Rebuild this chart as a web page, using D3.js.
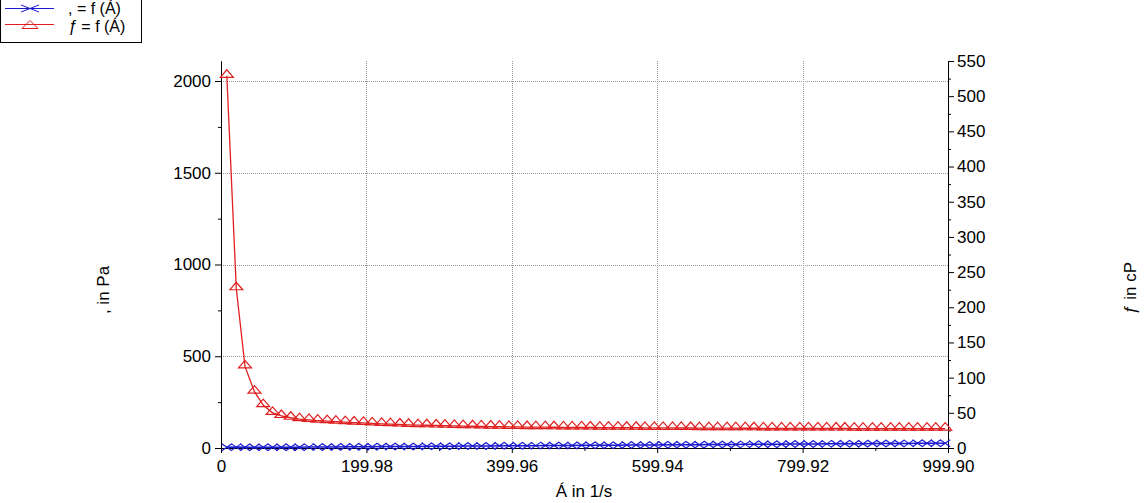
<!DOCTYPE html>
<html>
<head>
<meta charset="utf-8">
<script src="https://cdn.jsdelivr.net/npm/d3@7"></script>
<style>
body { margin: 0; background: #fff; }
svg { font-family: "Liberation Sans", Arial, sans-serif; }
</style>
</head>
<body>
<div id="graph"></div>
<script>
// shear rate (1/s)
var shearRate = [8,21,33,46,58,71,83,96,108,121,133,146,158,171,183,196,208,221,233,246,
	258,271,283,296,308,321,333,346,358,371,383,396,408,421,433,446,458,471,483,496,
	508,521,533,546,558,571,583,596,608,621,633,646,658,671,683,696,708,721,733,746,
	758,771,783,796,808,821,833,846,858,871,883,896,908,921,933,946,958,971,983,996];
// viscosity (cP), right axis
var viscosity = [529,227,116,80,61,50,45.5,43,41,40,39,38.2,37.5,36.8,36.2,35.6,35,34.4,33.9,33.4,
	33,32.6,32.3,32,31.7,31.4,31.1,30.9,30.7,30.5,30.3,30.1,29.95,29.8,29.7,29.6,29.5,29.4,29.3,29.2,
	29.1,29.0,28.95,28.9,28.8,28.75,28.7,28.6,28.55,28.5,28.45,28.4,28.35,28.3,28.25,28.2,28.15,28.1,28.05,28.0,
	27.95,27.9,27.9,27.85,27.8,27.8,27.75,27.7,27.7,27.65,27.65,27.6,27.6,27.55,27.55,27.5,27.5,27.5,27.45,27.45];
// shear stress (Pa), left axis
var stress = [4.2,4.8,3.8,3.7,3.5,3.5,3.8,4.1,4.4,4.8,5.2,5.6,5.9,6.3,6.6,7.0,7.3,7.6,7.9,8.2,
	8.5,8.8,9.1,9.5,9.8,10.1,10.4,10.7,11.0,11.4,11.7,12.0,12.3,12.6,12.9,13.2,13.5,13.8,14.1,14.4,
	14.7,15.0,15.3,15.6,15.9,16.2,16.5,16.8,17.1,17.4,17.7,18.0,18.3,18.6,18.9,19.2,19.5,19.8,20.1,20.4,
	20.7,21.0,21.3,21.6,21.9,22.2,22.5,22.8,23.1,23.4,23.7,24.0,24.3,24.6,24.9,25.2,25.5,25.8,26.1,26.4];

var xTicks = [0, 199.98, 399.96, 599.94, 799.92, 999.90];
var leftTicks = [0, 500, 1000, 1500, 2000];
var rightTicks = [0,50,100,150,200,250,300,350,400,450,500,550];

var W = 1144, H = 503;
var m = {left: 221, right: 948, top: 61, bottom: 448};
var blue = "#1c1ccf", red = "#e02020";

var svg = d3.select("#graph").append("svg").attr("width", W).attr("height", H);

var x = d3.scaleLinear().domain([0, 999.90]).range([m.left, m.right]);
var yL = d3.scaleLinear().domain([0, 2109]).range([m.bottom, m.top]);
var yR = d3.scaleLinear().domain([0, 550]).range([m.bottom, m.top]);

// grid
var grid = svg.append("g").attr("stroke", "#999").attr("stroke-dasharray", "1,1");
grid.selectAll(".gh").data(leftTicks.slice(1)).enter().append("line")
	.attr("x1", m.left).attr("x2", m.right)
	.attr("y1", function(d) { return Math.round(yL(d)) + 0.5; })
	.attr("y2", function(d) { return Math.round(yL(d)) + 0.5; });
grid.selectAll(".gv").data(xTicks.slice(1, -1)).enter().append("line")
	.attr("y1", m.top).attr("y2", m.bottom)
	.attr("x1", function(d) { return Math.round(x(d)) + 0.5; })
	.attr("x2", function(d) { return Math.round(x(d)) + 0.5; });

// axes
function minor(ticks) {
	var out = [];
	for (var i = 0; i < ticks.length - 1; i++) out.push((ticks[i] + ticks[i + 1]) / 2);
	return out;
}
function styleAxis(g) {
	g.selectAll("text").attr("font-size", 17).attr("fill", "#000");
	g.select(".domain").attr("stroke", "#000");
	g.selectAll(".tick line").attr("stroke", "#000");
}

svg.append("g").attr("transform", "translate(0," + m.bottom + ")")
	.call(d3.axisBottom(x).tickValues(xTicks).tickFormat(d3.format(".2f")).tickSizeInner(5).tickSizeOuter(0).tickPadding(7))
	.call(styleAxis)
	.call(function(g) { g.select(".tick text").text("0"); });
svg.append("g").attr("transform", "translate(0," + m.bottom + ")")
	.call(d3.axisBottom(x).tickValues(minor(xTicks)).tickFormat("").tickSizeInner(3).tickSizeOuter(0))
	.call(styleAxis);

svg.append("g").attr("transform", "translate(" + m.left + ",0)")
	.call(d3.axisLeft(yL).tickValues(leftTicks).tickFormat(d3.format("d")).tickSizeInner(6).tickSizeOuter(0).tickPadding(4))
	.call(styleAxis);
svg.append("g").attr("transform", "translate(" + m.left + ",0)")
	.call(d3.axisLeft(yL).tickValues(minor(leftTicks)).tickFormat("").tickSizeInner(3).tickSizeOuter(0))
	.call(styleAxis);

svg.append("g").attr("transform", "translate(" + m.right + ",0)")
	.call(d3.axisRight(yR).tickValues(rightTicks).tickSizeInner(6).tickSizeOuter(0).tickPadding(3))
	.call(styleAxis);
svg.append("g").attr("transform", "translate(" + m.right + ",0)")
	.call(d3.axisRight(yR).tickValues(minor(rightTicks)).tickFormat("").tickSizeInner(3).tickSizeOuter(0))
	.call(styleAxis);

// series
var redPts = shearRate.map(function(d, i) { return [x(d), yR(viscosity[i])]; });
var bluePts = shearRate.map(function(d, i) { return [x(d), yL(stress[i])]; });

svg.append("path").attr("d", d3.line()(bluePts)).attr("fill", "none").attr("stroke", blue).attr("stroke-width", 1.5);
svg.append("g").selectAll("path").data(bluePts).enter().append("path")
	.attr("d", function(p) { return "M" + (p[0]-5) + "," + (p[1]-3.5) + "L" + (p[0]+5) + "," + (p[1]+3.5) +
		"M" + (p[0]-5) + "," + (p[1]+3.5) + "L" + (p[0]+5) + "," + (p[1]-3.5); })
	.attr("stroke", blue).attr("stroke-width", 1.2).attr("fill", "none");

svg.append("path").attr("d", d3.line()(redPts)).attr("fill", "none").attr("stroke", red).attr("stroke-width", 1.3);
svg.append("g").selectAll("path").data(redPts).enter().append("path")
	.attr("d", function(p) { return "M" + (p[0]-6.5) + "," + (p[1]+1.5) + "L" + p[0] + "," + (p[1]-6) + "L" + (p[0]+6.5) + "," + (p[1]+1.5) + "Z"; })
	.attr("stroke", red).attr("stroke-width", 1.2).attr("fill", "none");

// axis titles
svg.append("text").attr("x", 584).attr("y", 497).attr("text-anchor", "middle").attr("font-size", 17).text("Á in 1/s");
svg.append("text").attr("transform", "translate(109,290) rotate(-90)").attr("text-anchor", "middle").attr("font-size", 17).text(",  in Pa");
svg.append("text").attr("transform", "translate(1136,288) rotate(-90)").attr("text-anchor", "middle").attr("font-size", 17).text("ƒ in cP");

// legend
var lg = svg.append("g");
lg.append("rect").attr("x", 0.5).attr("y", -1).attr("width", 141).attr("height", 43.5).attr("fill", "#fff").attr("stroke", "#000");
lg.append("line").attr("x1", 5).attr("x2", 54).attr("y1", 8.5).attr("y2", 8.5).attr("stroke", blue);
lg.append("path").attr("d", "M21,5L39,12M21,12L39,5").attr("stroke", blue).attr("fill", "none");
lg.append("line").attr("x1", 5).attr("x2", 54).attr("y1", 24.5).attr("y2", 24.5).attr("stroke", red);
lg.append("path").attr("d", "M22,28.5L30,20.5L38,28.5Z").attr("stroke", red).attr("fill", "none");
lg.append("text").attr("x", 68).attr("y", 14).attr("font-size", 16).text(",  = f (Á)");
lg.append("text").attr("x", 68).attr("y", 32).attr("font-size", 16).attr("font-style", "italic").text("ƒ").append("tspan").attr("font-style", "normal").text(" = f (Á)");
</script>
</body>
</html>
